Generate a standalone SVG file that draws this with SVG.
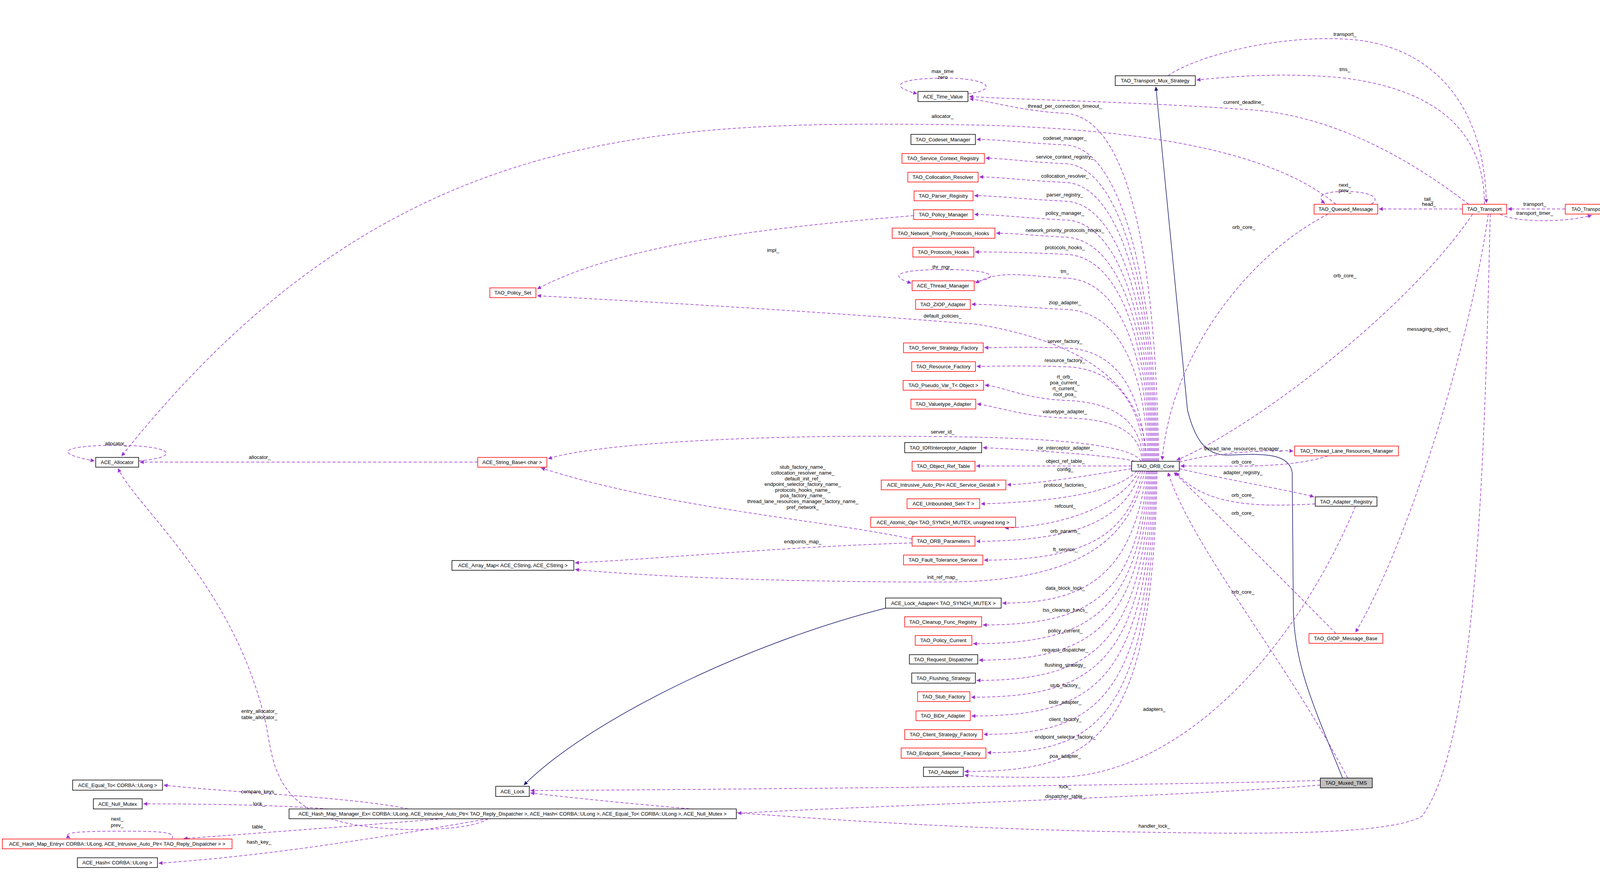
<svg xmlns="http://www.w3.org/2000/svg" width="4165" height="2235" viewBox="0 0 4165 2235">
<style>
text{font-family:"Liberation Sans",Arial,sans-serif;font-size:13px;fill:#000;text-anchor:middle}
.b{fill:#fff;stroke:#000;stroke-width:1.5}
.r{fill:#fff;stroke:#ff0000;stroke-width:1.5}
.e path{fill:none;stroke:#9a32cd;stroke-width:1.5;stroke-dasharray:8,5;marker-end:url(#pa)}
.e path.i{stroke:#191970;stroke-dasharray:none;marker-end:url(#ba)}
</style>
<defs>
<marker id="pa" viewBox="0 0 10 10" refX="10" refY="5" markerWidth="14" markerHeight="10" markerUnits="userSpaceOnUse" orient="auto"><path d="M0,0L10,5L0,10z" fill="#9a32cd"/></marker>
<marker id="ba" viewBox="0 0 10 10" refX="10" refY="5" markerWidth="14" markerHeight="10" markerUnits="userSpaceOnUse" orient="auto"><path d="M0,0L10,5L0,10z" fill="#191970"/></marker>
</defs>
<rect width="4165" height="2235" fill="#fff"/>
<g class="e" id="edges">
<path class="i" d="M3437,1992 C3360,1800 3313,1700 3311,1560 L3308,1210 C3300,1150 3200,1165 3140,1165 C3090,1165 3060,1130 3040,1050 L2959,222"/>
<path class="i" d="M2267,1557 C1900,1650 1500,1850 1341,2010"/>
<path d="M2966,1181 C2960,700 2900,300 2726,290 C2620,285 2540,260 2482,253"/>
<path d="M2963,1181 C2958,770 2880,375 2726,371 C2620,366 2560,357 2500,357"/>
<path d="M2960,1181 C2955,800 2880,423 2726,419 C2620,414 2570,405 2523,405"/>
<path d="M2957,1181 C2952,820 2880,471 2726,467 C2620,462 2560,453 2507,453"/>
<path d="M2954,1181 C2949,850 2880,519 2726,515 C2620,510 2550,501 2494,501"/>
<path d="M2951,1181 C2946,870 2880,567 2726,563 C2620,558 2550,549 2494,549"/>
<path d="M2948,1181 C2943,890 2880,612 2726,607 C2640,603 2600,597 2550,597"/>
<path d="M2945,1181 C2940,910 2880,655 2726,651 C2620,646 2550,645 2496,645"/>
<path d="M2942,1181 C2937,940 2880,715 2726,712 C2620,706 2560,690 2497,725"/>
<path d="M2939,1181 C2934,980 2880,796 2726,792 C2620,787 2550,779 2487,779"/>
<path d="M2936,1181 C2930,1000 2800,880 2500,830 C2000,790 1600,770 1375,757"/>
<path d="M2933,1181 C2928,1040 2880,894 2726,891 C2620,887 2570,890 2520,890"/>
<path d="M2930,1181 C2925,1070 2880,942 2726,939 C2620,935 2550,938 2500,938"/>
<path d="M2927,1181 C2922,1100 2880,1030 2726,1025 C2620,1020 2570,990 2521,986"/>
<path d="M2924,1181 C2919,1120 2880,1072 2726,1070 C2620,1067 2550,1040 2501,1034"/>
<path d="M2921,1181 C2900,1140 2700,1120 2413,1118 C1900,1110 1500,1140 1403,1175"/>
<path d="M2905,1181 C2850,1165 2600,1150 2516,1146"/>
<path d="M2897,1193 L2499,1193"/>
<path d="M2897,1200 C2800,1215 2650,1240 2578,1241"/>
<path d="M2910,1206 C2860,1260 2700,1285 2511,1290"/>
<path d="M2915,1206 C2880,1280 2750,1345 2572,1352"/>
<path d="M2920,1206 C2880,1330 2760,1385 2499,1386"/>
<path d="M2925,1206 C2890,1370 2780,1434 2519,1434"/>
<path d="M2930,1206 C2890,1420 2700,1490 2413,1490 C1900,1490 1600,1470 1472,1458"/>
<path d="M2935,1206 C2900,1470 2780,1545 2566,1544"/>
<path d="M2938,1206 C2910,1520 2800,1600 2516,1600"/>
<path d="M2941,1206 C2915,1560 2800,1648 2491,1648"/>
<path d="M2944,1206 C2920,1600 2800,1690 2506,1690"/>
<path d="M2947,1206 C2925,1650 2800,1742 2500,1742"/>
<path d="M2950,1206 C2930,1700 2800,1785 2486,1785"/>
<path d="M2953,1206 C2935,1750 2800,1833 2487,1833"/>
<path d="M2956,1206 C2940,1800 2800,1880 2518,1880"/>
<path d="M2959,1206 C2945,1850 2800,1927 2527,1927"/>
<path d="M2962,1206 C2950,1900 2800,1975 2469,1975"/>
<path d="M3019,1200 C3150,1230 3300,1255 3364,1272"/>
<path d="M3367,1290 C3200,1300 3080,1290 3010,1209"/>
<path d="M3019,1183 C3100,1160 3250,1150 3311,1155"/>
<path d="M3400,1167 C3300,1200 3150,1193 3022,1193"/>
<path d="M3420,1622 C3300,1500 3150,1350 3005,1209"/>
<path d="M3450,1992 C3300,1700 3050,1400 2990,1209"/>
<path d="M3400,548 C3200,650 3000,900 2975,1178"/>
<path d="M3770,548 C3600,800 3200,1100 3012,1178"/>
<path d="M3470,1296 C3300,1700 3000,1990 2700,1990 C2600,1990 2500,1990 2469,1984"/>
<path d="M3810,548 C3760,900 3600,1400 3470,1619"/>
<path d="M3815,548 C3800,1200 3780,1900 3640,2090 C3550,2140 3200,2135 2900,2130 C2300,2120 1700,2070 1358,2030"/>
<path d="M3380,1998 C3000,2010 2000,2020 1358,2024"/>
<path d="M3380,2010 C3000,2040 2300,2060 1888,2082"/>
<path d="M3744,535 L3530,535"/>
<path d="M4007,535 L3860,535"/>
<path d="M3840,548 C3870,568 4000,572 4075,551"/>
<path d="M3800,523 C3800,400 3750,240 3443,200 C3300,185 3150,195 3063,205"/>
<path d="M2990,194 C3050,150 3250,90 3443,100 C3650,110 3800,250 3805,520"/>
<path d="M3760,523 C3600,400 3400,290 3184,280 C2900,260 2600,255 2481,247"/>
<path d="M3420,523 C3250,380 2900,330 2500,320 C1700,310 1000,300 311,1168"/>
<path d="M2339,552 C2000,580 1600,620 1375,740"/>
<path d="M1223,1183 L358,1183"/>
<path d="M2335,1380 C2100,1330 1700,1300 1385,1198"/>
<path d="M2335,1390 C2000,1400 1700,1430 1472,1441"/>
<path d="M355,1180 C470,1170 440,1140 300,1140 C160,1140 130,1160 242,1180"/>
<path d="M2478,240 C2560,230 2530,200 2420,200 C2300,200 2270,220 2348,240"/>
<path d="M2494,722 C2570,710 2540,690 2420,690 C2300,690 2270,705 2333,725"/>
<path d="M3510,523 C3540,505 3500,490 3445,490 C3380,490 3370,505 3392,521"/>
<path d="M440,2148 C450,2130 420,2128 300,2128 C170,2128 160,2135 180,2146"/>
<path d="M1045,2071 C900,2040 600,2030 419,2010"/>
<path d="M840,2071 C700,2060 500,2058 367,2058"/>
<path d="M1135,2096 C900,2115 700,2130 470,2147"/>
<path d="M1250,2096 C1000,2140 700,2190 406,2210"/>
<path d="M1250,2096 C1200,2130 1000,2130 900,2110 C700,2070 700,1950 680,1850 C600,1500 350,1300 302,1199"/>
</g>
<g id="edge-labels">
<text x="2726" y="276">thread_per_connection_timeout_</text>
<text x="2413" y="302">allocator_</text>
<text x="2726" y="358">codeset_manager_</text>
<text x="2726" y="406">service_context_registry_</text>
<text x="2726" y="455">collocation_resolver_</text>
<text x="2726" y="503">parser_registry_</text>
<text x="2726" y="550">policy_manager_</text>
<text x="2726" y="594">network_priority_protocols_hooks_</text>
<text x="2726" y="638">protocols_hooks_</text>
<text x="2413" y="688">thr_mgr_</text>
<text x="2726" y="699">tm_</text>
<text x="2726" y="779">ziop_adapter_</text>
<text x="2413" y="813">default_policies_</text>
<text x="2726" y="878">server_factory_</text>
<text x="2726" y="927">resource_factory_</text>
<text x="2726" y="969">rt_orb_</text>
<text x="2726" y="984">poa_current_</text>
<text x="2726" y="999">rt_current_</text>
<text x="2726" y="1014">root_poa_</text>
<text x="2726" y="1058">valuetype_adapter_</text>
<text x="2413" y="1110">server_id_</text>
<text x="2727" y="1151">ior_interceptor_adapter_</text>
<text x="2727" y="1185">object_ref_table_</text>
<text x="2727" y="1206">config_</text>
<text x="2727" y="1246">protocol_factories_</text>
<text x="2727" y="1300">refcount_</text>
<text x="2727" y="1364">orb_params_</text>
<text x="2727" y="1411">ft_service_</text>
<text x="2413" y="1482">init_ref_map_</text>
<text x="2727" y="1510">data_block_lock_</text>
<text x="2727" y="1566">tss_cleanup_funcs_</text>
<text x="2727" y="1619">policy_current_</text>
<text x="2727" y="1668">request_dispatcher_</text>
<text x="2727" y="1707">flushing_strategy_</text>
<text x="2727" y="1759">stub_factory_</text>
<text x="2727" y="1802">bidir_adapter_</text>
<text x="2727" y="1846">client_factory_</text>
<text x="2727" y="1891">endpoint_selector_factory_</text>
<text x="2727" y="1940">poa_adapter_</text>
<text x="2955" y="1820">adapters_</text>
<text x="2727" y="2018">lock_</text>
<text x="2727" y="2043">dispatcher_table_</text>
<text x="2955" y="2119">handler_lock_</text>
<text x="3182" y="1153">thread_lane_resources_manager_</text>
<text x="3182" y="1187">orb_core_</text>
<text x="3182" y="1214">adapter_registry_</text>
<text x="3182" y="1272">orb_core_</text>
<text x="3182" y="1318">orb_core_</text>
<text x="3182" y="1520">orb_core_</text>
<text x="2413" y="187">max_time</text>
<text x="2413" y="202">zero</text>
<text x="3443" y="92">transport_</text>
<text x="3443" y="182">tms_</text>
<text x="3184" y="266">current_deadline_</text>
<text x="3443" y="478">next_</text>
<text x="3443" y="492">prev_</text>
<text x="3658" y="514">tail_</text>
<text x="3658" y="527">head_</text>
<text x="3929" y="527">transport_</text>
<text x="3929" y="550">transport_timer_</text>
<text x="3184" y="586">orb_core_</text>
<text x="3443" y="710">orb_core_</text>
<text x="3658" y="847">messaging_object_</text>
<text x="1979" y="645">impl_</text>
<text x="297" y="1140">allocator_</text>
<text x="665" y="1175">allocator_</text>
<text x="2055" y="1200">stub_factory_name_</text>
<text x="2055" y="1215">collocation_resolver_name_</text>
<text x="2055" y="1230">default_init_ref_</text>
<text x="2055" y="1244">endpoint_selector_factory_name_</text>
<text x="2055" y="1259">protocols_hooks_name_</text>
<text x="2055" y="1273">poa_factory_name_</text>
<text x="2055" y="1288">thread_lane_resources_manager_factory_name_</text>
<text x="2055" y="1303">pref_network_</text>
<text x="2055" y="1391">endpoints_map_</text>
<text x="664" y="1825">entry_allocator_</text>
<text x="664" y="1841">table_allocator_</text>
<text x="663" y="2031">compare_keys_</text>
<text x="663" y="2062">lock_</text>
<text x="300" y="2101">next_</text>
<text x="300" y="2117">prev_</text>
<text x="663" y="2121">table_</text>
<text x="663" y="2160">hash_key_</text>
</g>
<g id="n1"><rect class="b" x="2855" y="194" width="205" height="25"/><text x="2957" y="211">TAO_Transport_Mux_Strategy</text></g>
<g id="n2"><rect class="b" x="2350" y="234" width="128" height="26"/><text x="2414" y="252">ACE_Time_Value</text></g>
<g id="n3"><rect class="b" x="2332" y="344" width="165" height="26"/><text x="2414" y="362">TAO_Codeset_Manager</text></g>
<g id="n4"><rect class="r" x="2309" y="393" width="211" height="25"/><text x="2414" y="410">TAO_Service_Context_Registry</text></g>
<g id="n5"><rect class="r" x="2324" y="441" width="180" height="25"/><text x="2414" y="458">TAO_Collocation_Resolver</text></g>
<g id="n6"><rect class="r" x="2340" y="489" width="151" height="25"/><text x="2415" y="506">TAO_Parser_Registry</text></g>
<g id="n7"><rect class="r" x="2339" y="537" width="152" height="25"/><text x="2415" y="554">TAO_Policy_Manager</text></g>
<g id="n8"><rect class="r" x="2284" y="584" width="263" height="26"/><text x="2415" y="602">TAO_Network_Priority_Protocols_Hooks</text></g>
<g id="n9"><rect class="r" x="2337" y="633" width="156" height="25"/><text x="2415" y="650">TAO_Protocols_Hooks</text></g>
<g id="n10"><rect class="r" x="2335" y="719" width="159" height="25"/><text x="2414" y="736">ACE_Thread_Manager</text></g>
<g id="n11"><rect class="r" x="2344" y="767" width="140" height="25"/><text x="2414" y="784">TAO_ZIOP_Adapter</text></g>
<g id="n12"><rect class="r" x="2313" y="878" width="204" height="25"/><text x="2415" y="895">TAO_Server_Strategy_Factory</text></g>
<g id="n13"><rect class="r" x="2334" y="926" width="163" height="25"/><text x="2415" y="943">TAO_Resource_Factory</text></g>
<g id="n14"><rect class="r" x="2312" y="974" width="206" height="25"/><text x="2415" y="991">TAO_Pseudo_Var_T&lt; Object &gt;</text></g>
<g id="n15"><rect class="r" x="2332" y="1022" width="166" height="25"/><text x="2415" y="1039">TAO_Valuetype_Adapter</text></g>
<g id="n16"><rect class="b" x="2316" y="1133" width="197" height="26"/><text x="2414" y="1151">TAO_IORInterceptor_Adapter</text></g>
<g id="n17"><rect class="r" x="2335" y="1181" width="161" height="25"/><text x="2415" y="1198">TAO_Object_Ref_Table</text></g>
<g id="n18"><rect class="r" x="2256" y="1229" width="319" height="25"/><text x="2415" y="1246">ACE_Intrusive_Auto_Ptr&lt; ACE_Service_Gestalt &gt;</text></g>
<g id="n19"><rect class="r" x="2322" y="1277" width="186" height="25"/><text x="2415" y="1294">ACE_Unbounded_Set&lt; T &gt;</text></g>
<g id="n20"><rect class="r" x="2229" y="1324" width="371" height="26"/><text x="2414" y="1342">ACE_Atomic_Op&lt; TAO_SYNCH_MUTEX, unsigned long &gt;</text></g>
<g id="n21"><rect class="r" x="2335" y="1373" width="161" height="25"/><text x="2415" y="1390">TAO_ORB_Parameters</text></g>
<g id="n22"><rect class="r" x="2313" y="1421" width="203" height="25"/><text x="2414" y="1438">TAO_Fault_Tolerance_Service</text></g>
<g id="n23"><rect class="b" x="2267" y="1531" width="296" height="26"/><text x="2415" y="1549">ACE_Lock_Adapter&lt; TAO_SYNCH_MUTEX &gt;</text></g>
<g id="n24"><rect class="r" x="2316" y="1579" width="197" height="26"/><text x="2414" y="1597">TAO_Cleanup_Func_Registry</text></g>
<g id="n25"><rect class="r" x="2343" y="1627" width="145" height="25"/><text x="2415" y="1644">TAO_Policy_Current</text></g>
<g id="n26"><rect class="b" x="2328" y="1676" width="175" height="24"/><text x="2415" y="1693">TAO_Request_Dispatcher</text></g>
<g id="n27"><rect class="b" x="2334" y="1723" width="163" height="26"/><text x="2415" y="1741">TAO_Flushing_Strategy</text></g>
<g id="n28"><rect class="r" x="2349" y="1771" width="134" height="25"/><text x="2416" y="1788">TAO_Stub_Factory</text></g>
<g id="n29"><rect class="r" x="2345" y="1820" width="139" height="25"/><text x="2414" y="1837">TAO_BiDir_Adapter</text></g>
<g id="n30"><rect class="r" x="2316" y="1868" width="199" height="25"/><text x="2415" y="1885">TAO_Client_Strategy_Factory</text></g>
<g id="n31"><rect class="r" x="2307" y="1915" width="217" height="26"/><text x="2415" y="1933">TAO_Endpoint_Selector_Factory</text></g>
<g id="n32"><rect class="b" x="2364" y="1964" width="102" height="24"/><text x="2415" y="1981">TAO_Adapter</text></g>
<g id="n33"><rect class="b" x="2897" y="1181" width="122" height="25"/><text x="2958" y="1198">TAO_ORB_Core</text></g>
<g id="n34"><rect class="r" x="3314" y="1142" width="266" height="25"/><text x="3447" y="1159">TAO_Thread_Lane_Resources_Manager</text></g>
<g id="n35"><rect class="b" x="3367" y="1272" width="158" height="24"/><text x="3446" y="1289">TAO_Adapter_Registry</text></g>
<g id="n36"><rect class="r" x="3351" y="1622" width="189" height="25"/><text x="3445" y="1639">TAO_GIOP_Message_Base</text></g>
<g id="n37"><rect x="3380" y="1992" width="133" height="25" fill="#bfbfbf" stroke="#000" stroke-width="1.5"/><text x="3446" y="2009">TAO_Muxed_TMS</text></g>
<g id="n38"><rect class="r" x="3364" y="523" width="163" height="25"/><text x="3445" y="540">TAO_Queued_Message</text></g>
<g id="n39"><rect class="r" x="3744" y="523" width="113" height="25"/><text x="3800" y="540">TAO_Transport</text></g>
<g id="n40"><rect class="r" x="4007" y="523" width="153" height="25"/><text x="4082" y="540" style="font-size:12px">TAO_Transport_Timer</text></g>
<g id="n41"><rect class="b" x="186" y="1997" width="230" height="26"/><text x="301" y="2015">ACE_Equal_To&lt; CORBA::ULong &gt;</text></g>
<g id="n42"><rect class="b" x="239" y="2045" width="125" height="26"/><text x="301" y="2063">ACE_Null_Mutex</text></g>
<g id="n43"><rect class="b" x="740" y="2071" width="1145" height="25"/><text x="1312" y="2088">ACE_Hash_Map_Manager_Ex&lt; CORBA::ULong, ACE_Intrusive_Auto_Ptr&lt; TAO_Reply_Dispatcher &gt;, ACE_Hash&lt; CORBA::ULong &gt;, ACE_Equal_To&lt; CORBA::ULong &gt;, ACE_Null_Mutex &gt;</text></g>
<g id="n44"><rect class="r" x="6" y="2148" width="588" height="25"/><text x="300" y="2165">ACE_Hash_Map_Entry&lt; CORBA::ULong, ACE_Intrusive_Auto_Ptr&lt; TAO_Reply_Dispatcher &gt; &gt;</text></g>
<g id="n45"><rect class="b" x="198" y="2196" width="205" height="25"/><text x="300" y="2213">ACE_Hash&lt; CORBA::ULong &gt;</text></g>
<g id="n46"><rect class="b" x="1269" y="2013" width="86" height="26"/><text x="1312" y="2031">ACE_Lock</text></g>
<g id="n47"><rect class="b" x="245" y="1171" width="110" height="25"/><text x="300" y="1188">ACE_Allocator</text></g>
<g id="n48"><rect class="r" x="1223" y="1171" width="177" height="25"/><text x="1311" y="1188">ACE_String_Base&lt; char &gt;</text></g>
<g id="n49"><rect class="r" x="1254" y="737" width="118" height="25"/><text x="1313" y="754">TAO_Policy_Set</text></g>
<g id="n50"><rect class="b" x="1157" y="1435" width="312" height="25"/><text x="1313" y="1452">ACE_Array_Map&lt; ACE_CString, ACE_CString &gt;</text></g>
</svg>
